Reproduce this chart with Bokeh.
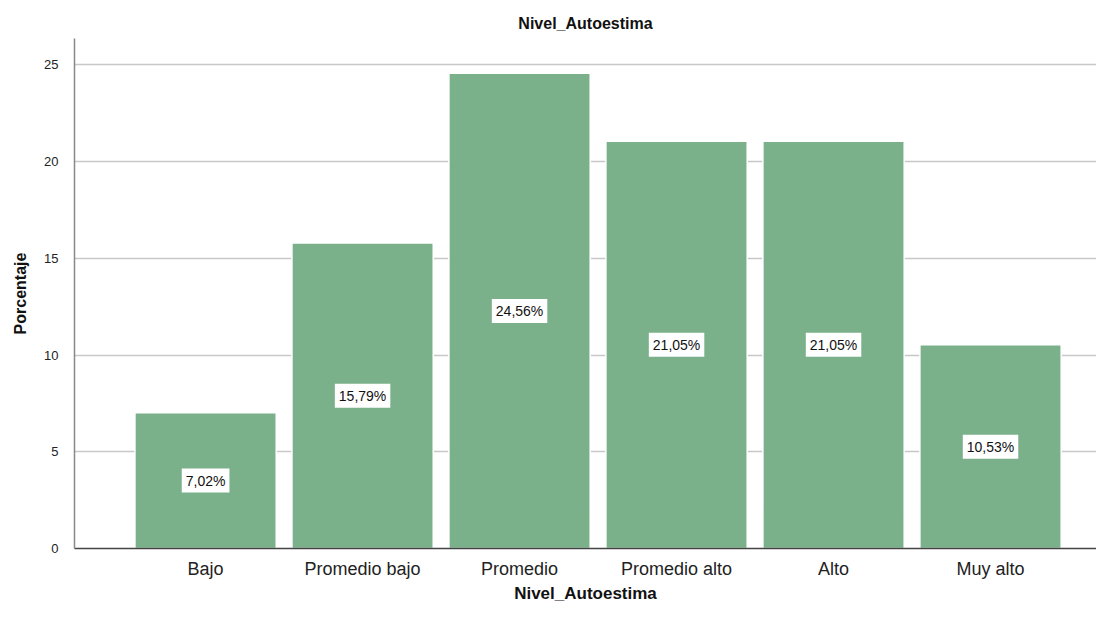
from bokeh.plotting import figure
from bokeh.models import Range1d, FixedTicker, ColumnDataSource
from bokeh.core.properties import value
from bokeh.embed import file_html
from bokeh.resources import INLINE

categories = ["Bajo", "Promedio bajo", "Promedio", "Promedio alto", "Alto", "Muy alto"]
percentages = [7.02, 15.79, 24.56, 21.05, 21.05, 10.53]
y_ticks = [0, 5, 10, 15, 20, 25]

xs = [i + 0.5 for i in range(len(categories))]
labels = [f"{v:.2f}%".replace(".", ",") for v in percentages]
src = ColumnDataSource(dict(x=xs, top=percentages, mid=[v / 2 for v in percentages], lab=labels))

FONT = "Liberation Sans"

p = figure(width=1096, height=605, output_backend="svg", toolbar_location=None,
           x_range=Range1d(-0.335, 6.175), y_range=Range1d(0, 26.36),
           title="Nivel_Autoestima", min_border_left=74, min_border_top=38,
           min_border_bottom=57, min_border_right=0)
p.outline_line_color = None
p.background_fill_color = "white"

p.title.align = "center"
p.title.text_font = FONT
p.title.text_font_size = "16px"
p.title.text_font_style = "bold"
p.title.text_color = "#111111"
p.title.offset = 0
p.title.standoff = 13

p.vbar(x="x", top="top", bottom=0, width=0.9, source=src,
       fill_color="#7AB08A", line_color="white", line_width=1.5)

# axes
p.yaxis.ticker = FixedTicker(ticks=y_ticks)
p.yaxis.axis_label = "Porcentaje"
p.yaxis.axis_label_text_font = FONT
p.yaxis.axis_label_text_font_size = "16px"
p.yaxis.axis_label_text_font_style = "bold"
p.yaxis.axis_label_text_color = "#111111"
p.yaxis.major_label_text_font = FONT
p.yaxis.major_label_text_font_size = "13px"
p.yaxis.major_label_text_color = "#222222"
p.yaxis.major_tick_line_color = None
p.yaxis.minor_tick_line_color = None
p.yaxis.axis_line_color = "#888888"
p.yaxis.axis_line_width = 1.5
p.yaxis.major_label_standoff = 10
p.yaxis.axis_label_standoff = 12

p.xaxis.ticker = FixedTicker(ticks=xs)
p.xaxis.major_label_overrides = {x: c for x, c in zip(xs, categories)}
p.xaxis.axis_label = "Nivel_Autoestima"
p.xaxis.axis_label_text_font = FONT
p.xaxis.axis_label_text_font_size = "17px"
p.xaxis.axis_label_text_font_style = "bold"
p.xaxis.axis_label_text_color = "#111111"
p.xaxis.major_label_text_font = FONT
p.xaxis.major_label_text_font_size = "18px"
p.xaxis.major_label_text_color = "#222222"
p.xaxis.major_tick_line_color = None
p.xaxis.minor_tick_line_color = None
p.xaxis.axis_line_color = "#444444"
p.xaxis.axis_line_width = 1.5
p.xaxis.major_label_standoff = 4
p.xaxis.axis_label_standoff = 2

p.xgrid.grid_line_color = None
p.ygrid.grid_line_color = "#c8c8c8"
p.ygrid.grid_line_width = 1.5
p.ygrid.level = "underlay"

p.text(x="x", y="mid", text="lab", source=src, text_align="center",
       text_baseline="middle", text_font=value(FONT), text_font_size="14px",
       text_color="#111111", background_fill_color="white", padding=4)

open("out.html", "w").write(file_html(p, INLINE))
